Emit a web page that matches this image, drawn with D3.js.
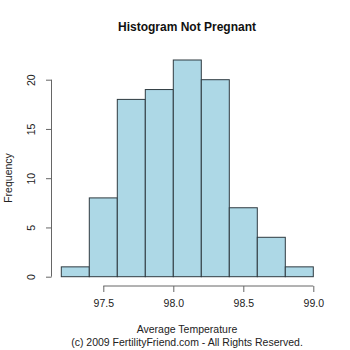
<!DOCTYPE html>
<html><head><meta charset="utf-8">
<script src="https://cdn.jsdelivr.net/npm/d3@7"></script>
<style>body{margin:0;background:#fff}svg{display:block}text{font-family:"Liberation Sans",Arial,sans-serif}</style>
</head><body>
<script>
const binStarts = [97.2, 97.4, 97.6, 97.8, 98.0, 98.2, 98.4, 98.6, 98.8];
const binWidth = 0.2;
const counts = [1, 8, 18, 19, 22, 20, 7, 4, 1];
const xTicks = [97.5, 98.0, 98.5, 99.0];
const yTicks = [0, 5, 10, 15, 20];
const title = "Histogram Not Pregnant";
const xLabel = "Average Temperature";
const credit = "(c) 2009 FertilityFriend.com - All Rights Reserved.";
const yLabel = "Frequency";

const W = 350, H = 350;
const svg = d3.select("body").append("svg").attr("width", W).attr("height", H);
const x = d3.scaleLinear().domain([97.2, 99.0]).range([61.3, 313.3]);
const y = d3.scaleLinear().domain([0, 20]).range([276.7, 79.7]);

svg.append("g").selectAll("rect").data(binStarts).join("rect")
  .attr("x", d => x(d))
  .attr("width", (d) => x(d + binWidth) - x(d))
  .attr("y", (d, i) => y(counts[i]))
  .attr("height", (d, i) => y(0) - y(counts[i]))
  .attr("fill", "#add8e6")
  .attr("stroke", "#2f3a40")
  .attr("stroke-width", 1);

const axisColor = "#666";
// x axis
const xa = svg.append("g").attr("transform", "translate(0,286)")
  .call(d3.axisBottom(x).tickValues(xTicks).tickFormat(d3.format(".1f")).tickSize(6).tickPadding(8).tickSizeOuter(0));
xa.select(".domain").attr("d", `M${x(97.5)},0H${x(99.0)}`).attr("stroke", axisColor);
xa.selectAll(".tick line").attr("stroke", axisColor);
xa.selectAll(".tick text").attr("fill", "#222").attr("font-size", 10.5).attr("font-family", "Liberation Sans, Arial, sans-serif");

// y axis
const ya = svg.append("g").attr("transform", "translate(51.5,0)")
  .call(d3.axisLeft(y).tickValues(yTicks).tickSize(5.5).tickSizeOuter(0));
ya.select(".domain").attr("d", `M0,${y(0)}V${y(20)}`).attr("stroke", axisColor);
ya.selectAll(".tick line").attr("stroke", axisColor);
ya.selectAll(".tick text").remove();
ya.selectAll(".tick").append("text")
  .attr("transform", "translate(-20,0) rotate(-90)")
  .attr("text-anchor", "middle").attr("dy", "0.35em")
  .attr("fill", "#222").attr("font-size", 10.5).text(d => d);

svg.append("text").attr("x", 187).attr("y", 31).attr("text-anchor", "middle")
  .attr("font-weight", "bold").attr("font-size", 12).attr("fill", "#111").text(title);
svg.append("text").attr("x", 187).attr("y", 333).attr("text-anchor", "middle")
  .attr("font-size", 10.5).attr("fill", "#222").text(xLabel);
svg.append("text").attr("x", 187).attr("y", 346).attr("text-anchor", "middle")
  .attr("font-size", 10.5).attr("fill", "#222").text(credit);
svg.append("text").attr("transform", "translate(12,178) rotate(-90)").attr("text-anchor", "middle")
  .attr("font-size", 10.5).attr("fill", "#222").text(yLabel);
</script>
</body></html>
